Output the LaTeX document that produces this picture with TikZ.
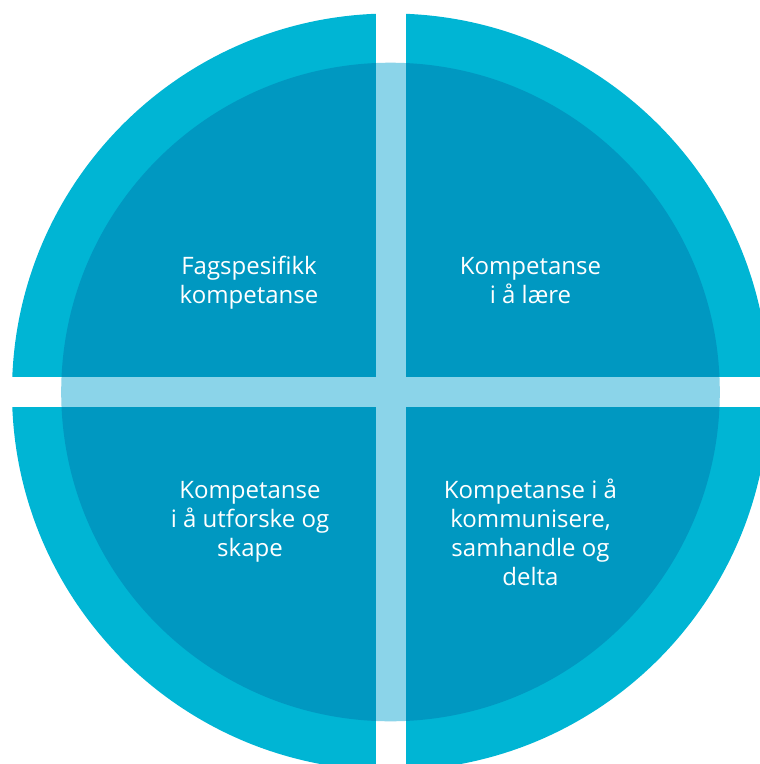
\documentclass[tikz,border=0pt]{standalone}
\usepackage{fontspec}
\setmainfont{Open Sans}
\definecolor{outerc}{RGB}{0,181,212}
\definecolor{innerc}{RGB}{0,152,193}
\definecolor{crossc}{RGB}{139,212,233}
\begin{document}
\begin{tikzpicture}[x=1pt,y=-1pt,
  lbl/.style={text=white,align=center,anchor=base,inner sep=0pt,
    font=\fontsize{24}{29}\selectfont}]
\useasboundingbox (0,0) rectangle (760,764);
\clip (0,0) rectangle (760,764);
\coordinate (c) at (390.5,392);
\fill[outerc] (c) circle[radius=378.5];
\fill[innerc] (c) circle[radius=329.3];
% white gaps
\fill[white] (375.5,0) rectangle (405.5,764);
\fill[white] (0,377) rectangle (760,407);
\begin{scope}
\clip (c) circle[radius=329.3];
\fill[crossc] (375.5,0) rectangle (405.5,764);
\fill[crossc] (0,377) rectangle (760,407);
\end{scope}
\node[lbl] (tl) at (249,303.5) {Fagspesifikk\\kompetanse};
\node[lbl] (tr) at (530.5,303.5) {Kompetanse\\i å lære};
\node[lbl] (bl) at (250,556.7) {Kompetanse\\i å utforske og\\skape};
\node[lbl] (br) at (530.5,585) {Kompetanse i å\\kommunisere,\\samhandle og\\delta};
\end{tikzpicture}
\end{document}
